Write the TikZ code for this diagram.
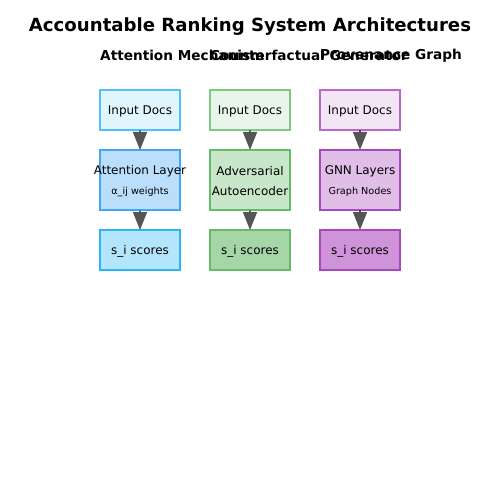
\documentclass[tikz,border=0pt]{standalone}
\usepackage{fontspec}
\setmainfont{DejaVu Sans}
\usetikzlibrary{positioning,arrows.meta}

\definecolor{arrowgray}{HTML}{555555}
\definecolor{bluefillA}{HTML}{E1F5FE}\definecolor{bluelineA}{HTML}{4FC3F7}
\definecolor{bluefillB}{HTML}{BBDEFB}\definecolor{bluelineB}{HTML}{42A5F5}
\definecolor{bluefillC}{HTML}{B3E5FC}\definecolor{bluelineC}{HTML}{29B6F6}
\definecolor{greenfillA}{HTML}{E8F5E9}\definecolor{greenlineA}{HTML}{81C784}
\definecolor{greenfillB}{HTML}{C8E6C9}\definecolor{greenlineB}{HTML}{66BB6A}
\definecolor{greenfillC}{HTML}{A5D6A7}\definecolor{greenlineC}{HTML}{66BB6A}
\definecolor{purplefillA}{HTML}{F3E5F5}\definecolor{purplelineA}{HTML}{BA68C8}
\definecolor{purplefillB}{HTML}{E1BEE7}\definecolor{purplelineB}{HTML}{AB47BC}
\definecolor{purplefillC}{HTML}{CE93D8}\definecolor{purplelineC}{HTML}{AB47BC}
\definecolor{bluestub}{HTML}{0288D1}
\definecolor{greenstub}{HTML}{388E3C}
\definecolor{purplestub}{HTML}{7B1FA2}

\begin{document}
\begin{tikzpicture}[x=1bp,y=1bp,box/.style={
rectangle,minimum width=80bp,minimum height=40bp,inner sep=0pt,outer sep=0pt, % The rest
line width=1.2bp,font=\fontsize{12}{14}\selectfont}]

\tikzset{
  title/.style={font={\fontsize{18.2}{20}\selectfont\bfseries}},
  sub/.style={font={\fontsize{13.7}{16}\selectfont\bfseries},anchor=west,inner sep=0pt},
  txt/.style={font=\fontsize{12}{14}\selectfont,inner sep=0pt},
  small/.style={font=\fontsize{9.7}{12}\selectfont,inner sep=0pt},
  every edge/.append style = {line width=1.5bp,-{Triangle[length=18bp,width=14bp,color=arrowgray]}}
}

    \useasboundingbox[fill=white] (0,0) rectangle (500,-500);
    \node[title] at (250,-27) (head) {Accountable Ranking System Architectures};

    \node[box,fill=bluefillA,draw=bluelineA] at (140,-110) (attin) {};
    \node[txt] at ([yshift=-1.5bp]attin.center) {Input Docs};
    \node[sub] at ([yshift=34.5bp]attin.north west) (attsub) {Attention Mechanism};
    \node[box,minimum height=60bp,fill=bluefillB,draw=bluelineB,below=20bp of attin] (attlayer) {};
    \node[txt] at ([yshift=8.5bp]attlayer.center) {Attention Layer};
    \node[small] at ([yshift=-11.5bp]attlayer.center) {α\_ij weights};
    \node[box,fill=bluefillC,draw=bluelineC,below=20bp of attlayer] (attout) {};
    \node[txt] at ([yshift=-1.5bp]attout.center) {s\_i scores};

    \node[box,fill=greenfillA,draw=greenlineA,right=30bp of attin] (cfin) {};
    \node[txt] at ([yshift=-1.5bp]cfin.center) {Input Docs};
    \node[sub] at ([yshift=34.5bp]cfin.north west) (cfsub) {Counterfactual Generator};
    \node[box,minimum height=60bp,fill=greenfillB,draw=greenlineB,below=20bp of cfin] (cfgen) {};
    \node[txt] at ([yshift=8.5bp]cfgen.center) {Adversarial};
    \node[txt] at ([yshift=-11.5bp]cfgen.center) {Autoencoder};
    \node[box,fill=greenfillC,draw=greenlineC,below=20bp of cfgen] (cfout) {};
    \node[txt] at ([yshift=-1.5bp]cfout.center) {s\_i scores};

    \node[box,fill=purplefillA,draw=purplelineA,right=30bp of cfin] (provin) {};
    \node[txt] at ([yshift=-1.5bp]provin.center) {Input Docs};
    \node[sub] at ([yshift=34.5bp]provin.north west) (provsub) {Provenance Graph};
    \node[box,minimum height=60bp,fill=purplefillB,draw=purplelineB,below=20bp of provin] (provgnn) {};
    \node[txt] at ([yshift=8.5bp]provgnn.center) {GNN Layers};
    \node[small] at ([yshift=-11.5bp]provgnn.center) {Graph Nodes};
    \node[box,fill=purplefillC,draw=purplelineC,below=20bp of provgnn] (provout) {};
    \node[txt] at ([yshift=-1.5bp]provout.center) {s\_i scores};

    \draw[bluestub]
        (attin) edge[] (attlayer)
        (attlayer) edge[] (attout);
    \draw[greenstub]
        (cfin) edge[] (cfgen)
        (cfgen) edge[] (cfout);
    \draw[purplestub]
        (provin) edge[] (provgnn)
        (provgnn) edge[] (provout);

\end{tikzpicture}
\end{document}
